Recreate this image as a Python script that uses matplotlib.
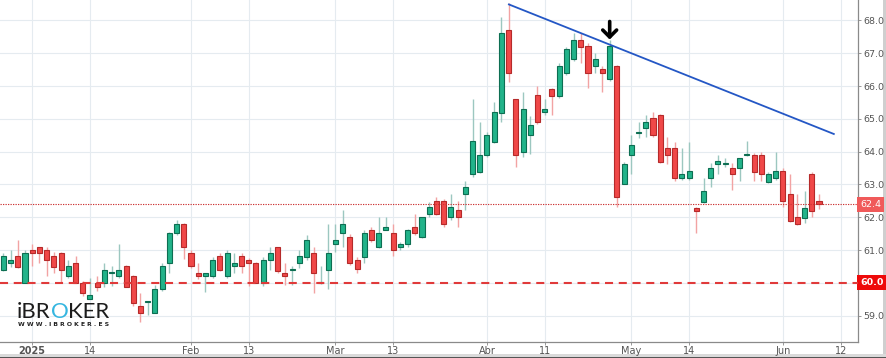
import matplotlib
matplotlib.use("Agg")
import matplotlib.pyplot as plt
from matplotlib.patches import Rectangle, Circle
from matplotlib.transforms import blended_transform_factory
import numpy as np

plt.rcParams['lines.scale_dashes'] = False

# ---- data (daily candles) ----
opens = [60.39, 60.60, 60.82, 60.00, 61.00, 61.08, 61.00, 60.82, 60.90, 60.21,
         60.60, 60.00, 59.51, 60.00, 60.00, 60.30, 60.21, 60.50, 60.21, 59.30,
         59.42, 59.09, 59.80, 60.60, 61.51, 61.80, 60.92, 60.31, 60.21, 60.21,
         60.82, 60.21, 60.52, 60.82, 60.70, 60.62, 60.00, 60.70, 61.08, 60.30,
         60.39, 60.60, 60.80, 60.90, 59.99, 60.39, 61.20, 61.51, 61.41, 60.70,
         60.80, 61.61, 61.10, 61.61, 61.51, 61.10, 61.20, 61.70, 61.39, 62.10,
         62.50, 62.50, 62.00, 62.22, 62.71, 63.32, 63.39, 63.90, 64.30, 65.19,
         67.71, 65.61, 64.00, 64.51, 65.73, 65.20, 65.90, 65.70, 66.41, 66.82,
         67.41, 67.22, 66.61, 66.51, 66.21, 66.61, 63.02, 63.90, 64.58, 64.71,
         65.02, 65.12, 64.10, 64.10, 63.19, 63.19, 62.29, 62.48, 63.19, 63.62,
         63.61, 63.51, 63.51, 63.89, 63.90, 63.90, 63.09, 63.19, 63.41, 62.71,
         62.00, 61.99, 63.31, 62.50]
highs = [60.92, 61.00, 61.31, 61.00, 61.20, 61.10, 61.10, 60.95, 60.95, 60.70,
         60.82, 60.05, 60.15, 60.21, 60.60, 60.50, 61.20, 60.55, 60.25, 59.69,
         59.43, 59.94, 60.60, 61.55, 61.92, 61.82, 61.00, 60.62, 60.31, 60.80,
         60.92, 61.00, 60.92, 60.90, 60.75, 60.64, 60.80, 61.08, 61.10, 60.62,
         60.50, 61.00, 61.46, 61.10, 60.50, 61.80, 61.80, 62.22, 61.50, 60.80,
         61.60, 61.70, 62.00, 62.00, 61.80, 61.26, 61.65, 62.10, 62.00, 62.48,
         62.61, 62.55, 62.71, 62.50, 63.12, 65.62, 64.91, 64.60, 65.52, 68.12,
         68.52, 65.61, 65.81, 65.09, 66.00, 65.62, 65.95, 66.70, 67.20, 67.61,
         67.61, 67.30, 67.02, 66.61, 67.41, 66.65, 63.70, 64.51, 64.91, 65.12,
         65.22, 65.15, 64.44, 64.30, 64.10, 64.30, 62.32, 63.19, 63.65, 63.90,
         63.80, 63.65, 63.80, 64.34, 63.95, 64.00, 63.39, 64.00, 63.49, 63.32,
         62.71, 62.81, 63.39, 62.71]
lows = [60.35, 60.48, 60.45, 60.00, 60.50, 60.60, 60.20, 60.30, 60.00, 60.15,
        60.00, 59.60, 59.50, 59.75, 59.87, 59.90, 60.15, 59.88, 59.30, 58.82,
        59.02, 59.09, 59.75, 60.30, 61.45, 60.72, 60.45, 60.13, 59.73, 60.15,
        60.35, 60.15, 60.31, 60.31, 59.90, 59.99, 59.90, 60.40, 60.30, 59.95,
        59.95, 60.45, 60.70, 59.70, 59.97, 59.80, 60.95, 61.10, 60.55, 60.30,
        60.60, 61.25, 61.05, 61.60, 60.82, 61.00, 61.10, 61.45, 61.37, 62.02,
        62.07, 61.71, 61.92, 61.71, 62.22, 63.22, 63.35, 63.85, 64.25, 64.91,
        66.13, 63.52, 63.83, 63.93, 64.84, 65.12, 65.12, 65.65, 66.35, 66.75,
        66.71, 65.93, 66.41, 65.83, 66.15, 62.30, 63.00, 63.32, 64.41, 64.44,
        64.45, 63.65, 63.62, 63.12, 63.15, 63.15, 61.53, 62.43, 62.93, 63.32,
        63.52, 62.83, 63.12, 63.87, 63.12, 63.12, 63.04, 63.15, 62.30, 61.85,
        61.75, 61.82, 62.02, 62.24]
closes = [60.82, 60.71, 60.48, 60.90, 60.90, 60.90, 60.70, 60.48, 60.40, 60.50,
          60.00, 59.69, 59.63, 59.87, 60.39, 60.31, 60.39, 59.88, 59.40, 59.09,
          59.43, 59.80, 60.52, 61.51, 61.80, 61.10, 60.52, 60.21, 60.31, 60.70,
          60.39, 60.92, 60.62, 60.50, 60.60, 59.99, 60.70, 60.92, 60.37, 60.20,
          60.40, 60.82, 61.31, 60.30, 60.00, 60.90, 61.31, 61.80, 60.60, 60.41,
          61.51, 61.31, 61.51, 61.70, 61.00, 61.20, 61.61, 61.51, 62.00, 62.30,
          62.10, 61.80, 62.30, 62.00, 62.91, 64.33, 63.90, 64.51, 65.20, 67.61,
          66.41, 63.90, 65.30, 64.81, 64.91, 65.30, 65.70, 66.61, 67.12, 67.41,
          67.20, 66.41, 66.82, 66.41, 67.22, 62.61, 63.62, 64.20, 64.60, 64.91,
          64.51, 63.70, 63.90, 63.19, 63.32, 63.41, 62.20, 62.81, 63.49, 63.72,
          63.62, 63.31, 63.80, 63.90, 63.39, 63.31, 63.31, 63.41, 62.50, 61.90,
          61.80, 62.29, 62.20, 62.40]

tick_idx = [4, 12, 26, 34, 46, 54, 67, 75, 87, 95, 108, 116]
tick_labels = ['2025', '14', 'Feb', '13', 'Mar', '13', 'Abr', '11', 'May', '14', 'Jun', '12']
price_ticks = [59, 60, 61, 62, 63, 64, 65, 66, 67, 68]

last_price = 62.4
support = 60.0
trend_x = [70.04, 115.05]
trend_y = [68.49, 64.54]
arrow_idx = 84

# ---- figure ----
W, H = 887, 358
fig = plt.figure(figsize=(W / 100, H / 100), dpi=100)
ax = fig.add_axes([0.0, 16.3 / H, 858 / W, 341.7 / H])
ax.set_zorder(2)

green, green_edge, green_wick = '#22b38a', '#0d6e52', '#9cc7c0'
red, red_edge, red_wick = '#f04848', '#b52a2a', '#f2a3a3'

x = np.arange(len(opens))
o = np.array(opens); c = np.array(closes)
hi = np.array(highs); lo = np.array(lows)
up = c >= o

ax.vlines(x[up], lo[up], hi[up], color=green_wick, lw=1.0, zorder=2)
ax.vlines(x[~up], lo[~up], hi[~up], color=red_wick, lw=1.0, zorder=2)
bottoms = np.minimum(o, c)
heights = np.maximum(np.abs(c - o), 0.035)
ax.bar(x[up], heights[up], bottom=bottoms[up], width=0.7, color=green,
       edgecolor=green_edge, linewidth=0.8, zorder=3)
ax.bar(x[~up], heights[~up], bottom=bottoms[~up], width=0.7, color=red,
       edgecolor=red_edge, linewidth=0.8, zorder=3)

# reference lines
ax.axhline(last_price, color='#cc3333', lw=0.8, dashes=(0.9, 0.9), zorder=4)
ax.axhline(support, color='#e03a3a', lw=1.5, dashes=(5.8, 4.1), zorder=4)

# trend line
ax.plot(trend_x, trend_y, color='#2457c5', lw=1.3, zorder=5)

# arrow
ax.annotate('', xy=(arrow_idx, 67.42), xytext=(arrow_idx, 67.97),
            arrowprops=dict(arrowstyle='->,head_width=0.5,head_length=0.5',
                            lw=2.6, color='black', shrinkA=0, shrinkB=0),
            zorder=6)

# axes styling
ax.set_xlim(-0.46, 118.4)
ax.set_ylim(58.207, 68.625)
ax.set_xticks(tick_idx)
ax.set_xticklabels(tick_labels)
ax.set_yticks(price_ticks)
ax.set_yticklabels(['' if p == support else f'{p:.1f}' for p in price_ticks])
ax.yaxis.tick_right()
ax.tick_params(axis='y', length=2.2, width=0.6, color='#888888', pad=1.5,
               labelsize=6.8, labelcolor='#555555')
ax.tick_params(axis='x', length=2.0, width=0.6, color='#888888', pad=1.0,
               labelsize=7, labelcolor='#555555')
ax.get_xticklabels()[0].set_fontweight('bold')
ax.grid(True, color='#e5ebf0', lw=0.8, zorder=0)
ax.set_axisbelow(True)
for s in ['left', 'top']:
    ax.spines[s].set_visible(False)
for s in ['right', 'bottom']:
    ax.spines[s].set_color('#8a8a8a')
    ax.spines[s].set_linewidth(0.9)

# price labels
tr = blended_transform_factory(ax.transAxes, ax.transData)
ax.text(1.0025, last_price, f'{last_price:.1f}', transform=tr, ha='left', va='center',
        fontsize=6.8, color='white', clip_on=False,
        bbox=dict(boxstyle='square,pad=0.32', facecolor='#f05a5a', edgecolor='none'))
ax.text(1.0025, support, f'{support:.1f}', transform=tr, ha='left', va='center',
        fontsize=6.8, color='white', fontweight='bold', clip_on=False,
        bbox=dict(boxstyle='square,pad=0.32', facecolor='#ee0a0a', edgecolor='none'))

# logo
t1 = ax.text(18 / W * (W / 858), 0, 'iBR', transform=ax.transAxes, fontsize=16,
             family='Lato', color='#1c1c1c', ha='left', va='baseline', alpha=0)
t1.remove()
t1 = fig.text(17 / W, (H - 318) / H, 'iBR', fontsize=16, family='Lato',
              color='#1c1c1c', ha='left', va='baseline', zorder=5)
t2 = fig.text(0, 0, '', zorder=5)
t2.remove()
t2 = ax.annotate('O', xy=(1, 0), xycoords=t1, fontsize=16, family='Lato',
                 color='#35b6e0', ha='left', va='bottom', annotation_clip=False)
t3 = ax.annotate('KER', xy=(1, 0), xycoords=t2, fontsize=16, family='Lato',
                 color='#1c1c1c', ha='left', va='bottom', annotation_clip=False)
fig.text(18 / W, (H - 326) / H, 'W W W . I B R O K E R . E S', fontsize=4.4,
         fontweight='bold', color='#222222', ha='left', va='baseline', zorder=5)

# frame border
fig.patches.append(Rectangle((883 / W, 0), 4 / W, 1, transform=fig.transFigure,
                             facecolor='#cfcfcf', edgecolor='none', zorder=-1))
fig.patches.append(Rectangle((0, 0), 1, 4.5 / H, transform=fig.transFigure,
                             facecolor='#dadada', edgecolor='none', zorder=-1))
fig.patches.append(Rectangle((0, 0), 1, 1.2 / H, transform=fig.transFigure,
                             facecolor='#555555', edgecolor='none', zorder=-1))

fig.savefig('out.png', dpi=100)
